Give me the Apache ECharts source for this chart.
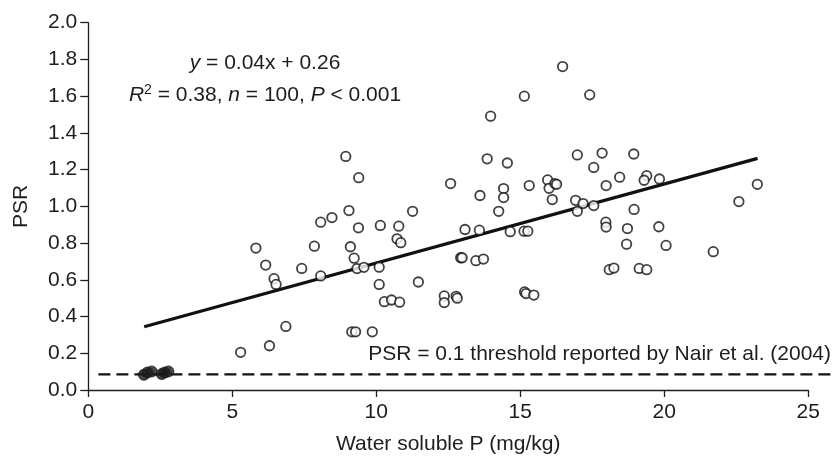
<!DOCTYPE html>
<html>
<head>
<meta charset="utf-8">
<script src="https://cdn.jsdelivr.net/npm/echarts@6/dist/echarts.min.js"></script>
<style>html,body{margin:0;padding:0;background:#fff;}#c{width:835px;height:460px;}</style>
</head>
<body>
<div id="c"></div>
<script>
// Open circles: water soluble P (mg/kg) and PSR
const openX = [5.82,6.16,6.45,6.52,6.86,6.29,5.29,7.41,
  8.94,9.39,9.05,8.46,8.07,9.38,10.14,10.78,11.26,10.72,10.85,7.85,9.10,9.23,9.33,9.57,10.10,8.07,11.46,10.10,10.28,10.53,10.81,9.15,9.28,9.86,
  16.47,15.14,17.41,13.97,13.85,14.55,16.98,17.84,17.55,12.58,13.60,14.42,14.42,15.31,15.95,16.00,16.20,16.26,16.11,17.98,18.45,14.25,16.92,17.18,16.98,17.55,13.08,13.58,14.65,15.13,15.26,17.97,17.98,
  12.93,12.98,13.46,13.72,12.36,12.36,12.77,12.81,15.15,15.20,15.47,18.09,18.25,
  18.94,19.39,19.30,19.83,22.59,23.23,18.95,18.72,19.81,18.69,20.06,
  21.70,19.13,19.39];
const openY = [0.773,0.680,0.606,0.575,0.346,0.241,0.205,0.662,
  1.272,1.156,0.977,0.939,0.914,0.883,0.896,0.892,0.973,0.823,0.802,0.783,0.780,0.718,0.661,0.668,0.669,0.621,0.588,0.575,0.481,0.490,0.478,0.317,0.317,0.317,
  1.761,1.600,1.607,1.491,1.259,1.236,1.280,1.290,1.212,1.124,1.059,1.097,1.048,1.113,1.144,1.098,1.124,1.120,1.037,1.113,1.159,0.973,1.033,1.015,0.973,1.004,0.874,0.870,0.862,0.865,0.865,0.914,0.887,
  0.720,0.720,0.704,0.713,0.512,0.476,0.510,0.500,0.534,0.525,0.517,0.655,0.664,
  1.285,1.167,1.142,1.149,1.026,1.120,0.983,0.879,0.889,0.794,0.787,
  0.753,0.662,0.655];
// Filled circles
const filledX = [1.93,2.05,2.20,2.55,2.65,2.78];
const filledY = [0.083,0.095,0.101,0.087,0.095,0.101];
// Regression line end points
const fitX = [1.94, 23.24];
const fitY = [0.344, 1.261];
// Threshold line (runs past the end of the x axis)
const threshX = [0.35, 25.8];
const threshY = [0.09, 0.09];
const threshAxisMax = 25.8;
// Axis ticks
const xTicks = [0, 5, 10, 15, 20, 25];
const yTicks = [0.0, 0.2, 0.4, 0.6, 0.8, 1.0, 1.2, 1.4, 1.6, 1.8, 2.0];

const zip = (a, b) => a.map((v, i) => [v, b[i]]);
const FONT = 'Liberation Sans, Arial, Helvetica, sans-serif';
const TXT = '#1f1c1d';

const chart = echarts.init(document.getElementById('c'), null, {renderer: 'canvas'});
chart.setOption({
  animation: false,
  backgroundColor: '#ffffff',
  grid: [
    {left: 88.3, right: 26.7, top: 22.7, bottom: 69, containLabel: false},
    {left: 88.3, right: 3.3, top: 22.7, bottom: 69, containLabel: false}
  ],
  xAxis: [{
    type: 'value', gridIndex: 0, min: xTicks[0], max: xTicks[xTicks.length - 1], interval: 5,
    name: 'Water soluble P (mg/kg)', nameLocation: 'middle', nameGap: 44,
    nameTextStyle: {fontFamily: FONT, fontSize: 21, color: TXT},
    axisLine: {show: true, onZero: false, lineStyle: {color: TXT, width: 1.3}},
    axisTick: {show: true, inside: false, length: 7, lineStyle: {color: TXT, width: 1.3}},
    axisLabel: {fontFamily: FONT, fontSize: 21, color: TXT, margin: 12},
    splitLine: {show: false}
  }, {
    type: 'value', gridIndex: 1, min: 0, max: threshAxisMax, show: false
  }],
  yAxis: [{
    type: 'value', gridIndex: 0, min: yTicks[0], max: yTicks[yTicks.length - 1], interval: 0.2,
    name: 'PSR', nameLocation: 'middle', nameGap: 57, nameRotate: 90,
    nameTextStyle: {fontFamily: FONT, fontSize: 21, color: TXT},
    axisLine: {show: true, onZero: false, lineStyle: {color: TXT, width: 1.3}},
    axisTick: {show: true, inside: false, length: 8, lineStyle: {color: TXT, width: 1.3}},
    axisLabel: {fontFamily: FONT, fontSize: 21, color: TXT, margin: 11,
      formatter: v => v.toFixed(1)},
    splitLine: {show: false}
  }, {
    type: 'value', gridIndex: 1, min: yTicks[0], max: yTicks[yTicks.length - 1], show: false
  }],
  series: [
    {
      type: 'line', xAxisIndex: 1, yAxisIndex: 1, data: zip(threshX, threshY), symbol: 'none', z: 2,
      lineStyle: {color: '#111', width: 2.2, type: [12, 6]}
    },
    {
      type: 'line', data: zip(fitX, fitY), symbol: 'none', z: 3,
      lineStyle: {color: '#111', width: 3.2}
    },
    {
      type: 'scatter', data: zip(openX, openY), symbol: 'circle', symbolSize: 9.5, z: 4,
      itemStyle: {color: '#fff', borderColor: '#111', borderWidth: 1.8}
    },
    {
      type: 'scatter', data: zip(filledX, filledY), symbol: 'circle', symbolSize: 11, z: 5,
      itemStyle: {color: '#1a1a1a', borderColor: '#1a1a1a', borderWidth: 1}
    }
  ],
  graphic: [
    {
      type: 'text', x: 265, y: 63, z: 10,
      style: {
        text: '{i|y} = 0.04x + 0.26',
        x: 0, y: 0, textAlign: 'center', textVerticalAlign: 'middle',
        font: '21px ' + FONT, fill: TXT,
        rich: {i: {fontStyle: 'italic', fontFamily: FONT, fontSize: 21, fill: TXT}}
      }
    },
    {
      type: 'text', x: 265, y: 95, z: 10,
      style: {
        text: '{i|R}{s|2} = 0.38, {i|n} = 100, {i|P} < 0.001',
        x: 0, y: 0, textAlign: 'center', textVerticalAlign: 'middle',
        font: '21px ' + FONT, fill: TXT,
        rich: {
          i: {fontStyle: 'italic', fontFamily: FONT, fontSize: 21, fill: TXT, lineHeight: 24},
          s: {fontFamily: FONT, fontSize: 14, fill: TXT, verticalAlign: 'top', lineHeight: 24, padding: [0, 0, 6, 0]}
        }
      }
    },
    {
      type: 'text', x: 831, y: 354, z: 10,
      style: {
        text: 'PSR = 0.1 threshold reported by Nair et al. (2004)',
        x: 0, y: 0, textAlign: 'right', textVerticalAlign: 'middle',
        font: '21px ' + FONT, fill: TXT
      }
    }
  ]
});
</script>
</body>
</html>
